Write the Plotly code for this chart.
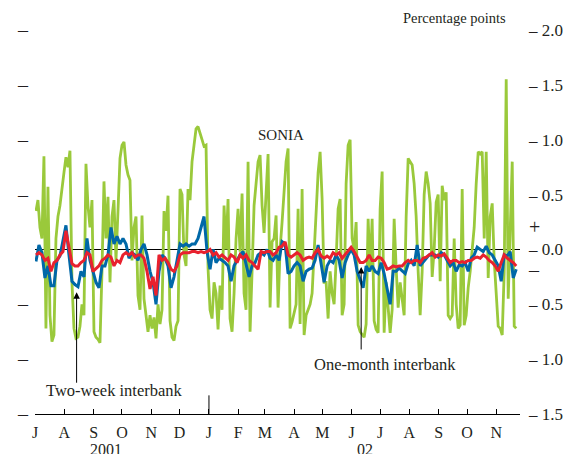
import plotly.graph_objects as go
import pandas as pd

# ---- data ----
series_start = "2001-07-02"
series_end = "2002-11-22"

sonia = [0.35, 0.45, 0.2, 0.1, 0.85, -0.72, 0.57, -0.6, -0.84, -0.78, 0.1, 0.3, 0.4, 0.58, 0.7, 0.84, 0.75, 0.9, -0.3, -0.72,
         -0.81, -0.8, -0.7, -0.5, -0.6, 0.78, 0.4, 0.2, 0.45, -0.75, -0.8, -0.82, -0.85, -0.2, 0.62, 0.1, 0.48, -0.3, 0.3,
         0.45, -0.1, 0.35, 0.83, 0.95, 0.98, 0.77, 0.68, 0.63, -0.1, 0.2, 0.3, -0.42, -0.55, 0.31, -0.45, -0.6, -0.75, -0.6,
         -0.72, -0.62, -0.81, -0.5, -0.68, -0.55, 0.35, 0.17, 0.49, -0.65, -0.8, -0.83, -0.7, -0.65, 0.55, 0.5, -0.05, -0.15,
         0.55, 0.45,
         0.8, 0.95, 1.1, 1.12, 1.05, 1.0, 0.94, 0.95, -0.17, -0.55, -0.63, -0.3, -0.4, -0.73, -0.33, -0.55, 0.4, 0.0, 0.46,
         -0.63, -0.75, -0.4, 0.1, 0.37, -0.02, 0.51, -0.4, -0.55, 0.8, -0.75, -0.2, 0.4, 0.6, 0.8, 0.86, 0.4, 0.15, 0.5, 0.87,
         -0.53,
         0.07, 0.1, 0.31, -0.53, 0.0, 0.25, 0.5, 0.8, 0.92, -0.72, -0.66, -0.58, -0.5, 0.37, -0.68, 0.55, -0.78, -0.6, -0.55,
         -0.5, -0.4, 0.0, 0.4, 0.7, 0.89, 0.46, -0.3, -0.3, -0.63, -0.2, -0.4, -0.5, -0.1, 0.37, 0.46, -0.6, -0.5, 0.6, 0.95,
         1.0,
         0.1, 0.0, 0.25, -0.69, -0.75, -0.78, -0.8, -0.68, 0.28, -0.2, 0.28, -0.65, -0.73, -0.76, 0.37, 0.71, -0.76, -0.3,
         -0.5, -0.76, -0.55, 0.28, -0.17, -0.53, -0.3, -0.43, -0.6, 0.3, 0.83, 0.8, 0.77, 0.6, 0.3, -0.2, -0.6, -0.2, 0.5,
         0.71, 0.6, 0.42, -0.25,
         0.0, 0.43, 0.5, -0.29, 0.58, 0.45, 0.52, -0.6, -0.63, -0.6, 0.1, -0.5, -0.72, -0.69, 0.55, -0.69, -0.6, -0.35, -0.2,
         0.0, 0.2, 0.6, 0.89, 0.87, 0.89, 0.1, 0.89, -0.26, 0.3, 0.42, -0.1, -0.4, -0.7, -0.72, -0.78, -0.2, 1.55, -0.45, 0.1,
         0.8, -0.7, -0.72]

two_week = [-0.11, 0.04, -0.03, -0.26, -0.15, -0.33, -0.33, -0.1, -0.06, 0.07, 0.22, -0.05, -0.29, -0.32, -0.34, -0.2, -0.25,
            0.1, -0.1, -0.2, -0.3, -0.35, -0.15, -0.15, -0.05, 0.2,
            0.05, 0.12, 0.05, 0.1, 0.05, -0.08, -0.03, -0.05, -0.1, 0.0, 0.05, -0.05, -0.2, -0.3, -0.5, -0.2, -0.05, -0.08,
            -0.15, -0.35, -0.25, -0.1, 0.05, 0.03, 0.05, 0.03, 0.05,
            0.05, 0.1, 0.2, 0.3, -0.02, -0.18, 0.0, -0.12, -0.08, -0.1, -0.12, -0.15, -0.29, -0.15, -0.1, -0.05, -0.02,
            -0.15, -0.25, -0.15, -0.12, -0.05, -0.03, -0.05, 0.0, -0.08,
            -0.1, -0.05, -0.1, 0.07, 0.05, -0.22, -0.2, -0.15, -0.12, -0.15, -0.29, -0.2, -0.18, -0.17, -0.1, 0.04, -0.15,
            -0.3, -0.15, -0.1, -0.12, -0.05, -0.1, -0.26, -0.12, -0.05, 0.0,
            -0.05, -0.2, -0.28, -0.35, -0.15, -0.2, -0.15, -0.2, -0.22, -0.12, -0.22, -0.35, -0.5, -0.2, -0.2, -0.17, -0.2,
            -0.22, -0.13, -0.1, -0.15, 0.04, -0.15, -0.12, -0.08, -0.05, -0.05,
            -0.05, -0.07, -0.03, -0.05, -0.1, -0.15, -0.12, -0.2, -0.14, -0.15, -0.12, -0.2, -0.08, -0.05, 0.02, 0.0, -0.02,
            0.03, -0.03, -0.05, -0.1, -0.15, -0.29, -0.05, -0.06, -0.02, -0.26, -0.18]

one_month = [-0.05, -0.03, -0.05, -0.1, -0.08, -0.2, -0.12, -0.1, -0.05, -0.02, 0.17, 0.0, -0.13, -0.15, -0.15, -0.12, -0.1,
             -0.03, -0.05, -0.2, -0.17, -0.15, -0.1, -0.08, -0.05, -0.07,
             -0.15, -0.1, -0.12, -0.05, -0.03, -0.05, -0.03, -0.07, -0.05, -0.05, -0.08, -0.2, -0.36, -0.25, -0.42, -0.05,
             -0.1, -0.08, -0.12, -0.18, -0.2, -0.15, -0.05, -0.03, -0.03, -0.03, -0.02,
             -0.02, -0.03, -0.02, -0.03, -0.02, 0.0, -0.05, -0.03, -0.07, -0.05, -0.08, -0.1, -0.05, -0.07, -0.12, -0.05,
             -0.08, -0.05, -0.1, -0.12, -0.15, -0.18, -0.02, -0.03, -0.02, -0.02,
             -0.05, -0.03, 0.02, 0.03, 0.07, -0.05, -0.07, -0.05, -0.03, -0.05, -0.1, -0.08, -0.07, -0.08, -0.03, 0.0, -0.06,
             -0.08, -0.06, -0.08, -0.03, -0.05, -0.03, -0.08, -0.05, -0.02, 0.02,
             -0.02, -0.07, -0.12, -0.12, -0.1, -0.05, -0.1, -0.1, -0.07, -0.08, -0.12, -0.18, -0.17, -0.15, -0.16, -0.15,
             -0.15, -0.12, -0.1, -0.12, -0.1, -0.1, -0.12, -0.08, -0.07, -0.05, -0.03,
             -0.07, -0.05, -0.06, -0.04, -0.08, -0.12, -0.1, -0.1, -0.12, -0.11, -0.12, -0.1, -0.1, -0.08, -0.07, -0.08,
             -0.05, -0.07, -0.1, -0.12, -0.15, -0.2, -0.12, -0.05, -0.08, -0.1, -0.12, -0.15]

month_ticks = pd.date_range("2001-07-01", "2002-11-01", freq="MS")
month_labels = ["J", "A", "S", "O", "N", "D", "J", "F", "M", "A", "M", "J", "J", "A", "S", "O", "N"]
y_ticks = [-1.5, -1.0, -0.5, 0.0, 0.5, 1.0, 1.5, 2.0]
y_labels = ["1.5", "1.0", "0.5", "0.0", "0.5", "1.0", "1.5", "2.0"]

# ---- figure ----
FONT = "Liberation Serif"
TXT = "#231f20"
GREEN = "#9ac93b"
BLUE = "#0068a8"
RED = "#e8212e"


def dates(n):
    return pd.date_range(series_start, series_end, periods=n)


fig = go.Figure()
fig.add_trace(go.Scatter(x=dates(len(sonia)), y=sonia, mode="lines",
                         line=dict(color=GREEN, width=2.8), name="SONIA"))
fig.add_trace(go.Scatter(x=dates(len(two_week)), y=two_week, mode="lines",
                         line=dict(color=BLUE, width=3), name="Two-week interbank"))
fig.add_trace(go.Scatter(x=dates(len(one_month)), y=one_month, mode="lines",
                         line=dict(color=RED, width=3), name="One-month interbank"))
# invisible trace on left axis to carry the left-hand tick dashes
fig.add_trace(go.Scatter(x=[month_ticks[0]], y=[0], yaxis="y2", mode="markers",
                         marker=dict(opacity=0), hoverinfo="skip", showlegend=False))

fig.update_layout(
    width=563, height=454,
    margin=dict(l=35, r=43, t=30, b=40, autoexpand=False),
    paper_bgcolor="white", plot_bgcolor="white",
    showlegend=False,
    font=dict(family=FONT, color=TXT, size=15),
    xaxis=dict(
        type="date", range=["2001-07-01", "2002-11-26"], automargin=False,
        tickvals=list(month_ticks), ticktext=month_labels,
        ticks="inside", ticklen=5, tickwidth=1, tickcolor="black",
        showline=True, linecolor="black", linewidth=1,
        showgrid=False, zeroline=False, ticklabelstandoff=4,
        tickfont=dict(size=16, family=FONT, color=TXT),
    ),
    yaxis=dict(
        side="right", range=[-1.5, 2.0], automargin=False,
        tickvals=y_ticks, ticktext=["\u2013 " + t for t in y_labels],
        ticks="", showgrid=False, showline=False, ticklabelstandoff=8,
        zeroline=True, zerolinecolor="black", zerolinewidth=1.2,
        tickfont=dict(size=17, family=FONT, color=TXT),
    ),
    yaxis2=dict(
        overlaying="y", side="left", range=[-1.5, 2.0], automargin=False,
        tickvals=[v for v in y_ticks if v != 0], ticktext=["\u2013"] * 7,
        ticks="", showgrid=False, showline=False, zeroline=False, ticklabelstandoff=6,
        tickfont=dict(size=20, family=FONT, color=TXT),
    ),
)

# taller tick at the year boundary
fig.add_shape(type="line", xref="x", yref="y", x0=month_ticks[6], x1=month_ticks[6],
              y0=-1.5, y1=-1.33, line=dict(color="black", width=1))

ann = []
ann.append(dict(text="Percentage points", xref="paper", yref="paper", x=0.975, y=1.0,
                xanchor="right", yanchor="bottom", yshift=2, showarrow=False, font=dict(size=14.5)))
ann.append(dict(text="SONIA", xref="x", yref="y", x="2002-03-18", y=1.04, showarrow=False,
                font=dict(size=15)))
ann.append(dict(text="Two-week interbank", xref="x", yref="y", x="2001-09-23", y=-1.29,
                showarrow=False, font=dict(size=16.5)))
ann.append(dict(text="One-month interbank", xref="x", yref="y", x="2002-07-06", y=-1.05,
                showarrow=False, font=dict(size=16.5)))
# arrows
ann.append(dict(text="", xref="x", yref="y", x="2001-08-14", y=-0.39, ax=0, ay=92,
                showarrow=True, arrowhead=2, arrowsize=1.3, arrowwidth=1, arrowcolor="black"))
ann.append(dict(text="", xref="x", yref="y", x="2002-06-11", y=-0.16, ax=0, ay=84,
                showarrow=True, arrowhead=2, arrowsize=1.3, arrowwidth=1, arrowcolor="black"))
# + / - signs on right
ann.append(dict(text="+", xref="paper", yref="y", x=1.0, y=0.2, xshift=22, showarrow=False,
                font=dict(size=20)))
ann.append(dict(text="\u2013", xref="paper", yref="y", x=1.0, y=-0.19, xshift=22, showarrow=False,
                font=dict(size=20)))
# year labels
ann.append(dict(text="2001", xref="x", yref="paper", x="2001-09-14", y=0, yshift=-35,
                yanchor="middle", showarrow=False, font=dict(size=16)))
ann.append(dict(text="02", xref="x", yref="paper", x="2002-06-15", y=0, yshift=-35,
                yanchor="middle", showarrow=False, font=dict(size=16)))
fig.update_layout(annotations=ann)

fig.write_html("out.html")
